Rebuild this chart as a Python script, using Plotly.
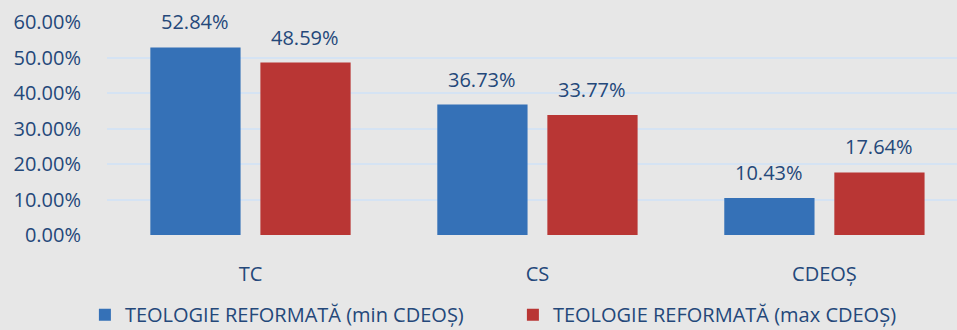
import plotly.graph_objects as go

categories = ["TC", "CS", "CDEOȘ"]
series_names = ["TEOLOGIE REFORMATĂ (min CDEOȘ)", "TEOLOGIE REFORMATĂ (max CDEOȘ)"]
min_values = [0.5284, 0.3673, 0.1043]
max_values = [0.4859, 0.3377, 0.1764]
y_ticks = [0.0, 0.1, 0.2, 0.3, 0.4, 0.5, 0.6]

BG = "#E7E7E7"
TEXT = "#24487A"
FONT = "Open Sans"
FS = 20
colors = ["#3571B7", "#B93634"]

fig = go.Figure()
for name, vals, col in zip(series_names, [min_values, max_values], colors):
    fig.add_trace(go.Bar(
        x=categories, y=vals, name=name,
        marker=dict(color=col, line=dict(width=0)),
    ))

# value labels above each bar
for vals, shift in [(min_values, -55), (max_values, 55)]:
    for c, v in zip(categories, vals):
        fig.add_annotation(
            x=c, y=v, text=f"{v*100:.2f}%", showarrow=False,
            xshift=shift, yshift=10, yanchor="bottom",
            font=dict(family=FONT, size=FS, color=TEXT),
        )

fig.update_layout(
    width=957, height=330,
    paper_bgcolor=BG, plot_bgcolor=BG,
    margin=dict(l=107, r=0, t=22, b=95, autoexpand=False),
    barmode="group", bargap=0.233, bargroupgap=0.18,
    font=dict(family=FONT, size=FS, color=TEXT),
    showlegend=True,
    legend=dict(
        orientation="h", x=-0.026, xanchor="left",
        y=-0.374, yanchor="middle",
        font=dict(family=FONT, size=FS, color=TEXT),
        bgcolor="rgba(0,0,0,0)", entrywidth=383, entrywidthmode="pixels",
        tracegroupgap=0,
    ),
    xaxis=dict(
        range=[-0.5, 2.462], showgrid=False, zeroline=False, showline=False,
        ticks="outside", ticklen=21, tickcolor=BG,
        tickfont=dict(family=FONT, size=FS, color=TEXT),
    ),
    yaxis=dict(
        range=[0, 0.6], tickvals=y_ticks, tickformat=".2%",
        gridcolor="#D5E3F3", gridwidth=2, zeroline=False, showline=False,
        ticks="outside", ticklen=21, tickcolor=BG,
        tickfont=dict(family=FONT, size=FS, color=TEXT),
    ),
)

fig.write_html("out.html")
